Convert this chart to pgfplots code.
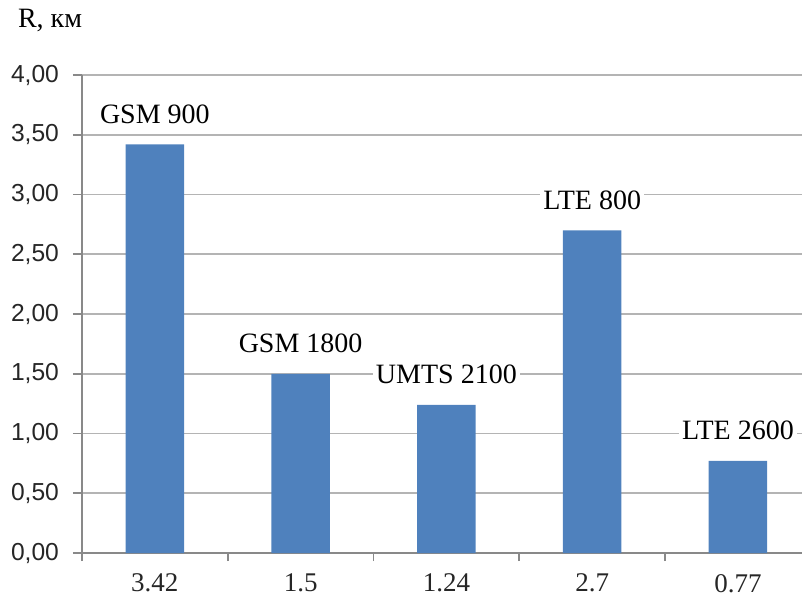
\documentclass[border=0pt]{standalone}
\usepackage{pgfplots}
\pgfplotsset{compat=1.18}
\usepackage{pgfplotstable}
\usepackage{fontspec}
\setmainfont{Liberation Serif}
\setsansfont{Liberation Sans}
\definecolor{barblue}{HTML}{4F81BD}
\definecolor{axisgray}{HTML}{898989}
\definecolor{gridgray}{HTML}{B4B4B4}
\pgfplotstableread{
x y label
0 3.42 {GSM 900}
1 1.5 {GSM 1800}
2 1.24 {UMTS 2100}
3 2.7 {LTE 800}
4 0.77 {LTE 2600}
}\datatable
\begin{document}
\begin{tikzpicture}
\begin{axis}[
  scale only axis, width=360pt, height=239pt,
  xmin=-0.5, xmax=4.44, ymin=0, ymax=4,
  axis x line=bottom, axis y line=left,
  axis line style={-, axisgray, line width=0.9pt},
  ytick={0,0.5,...,4},
  ymajorgrids, grid style={gridgray, line width=0.9pt},
  yticklabel style={font=\sffamily\fontsize{12.3}{13}\selectfont, text=black!85, xshift=-3.5pt,
    /pgf/number format/fixed, /pgf/number format/fixed zerofill,
    /pgf/number format/precision=2, /pgf/number format/use comma,
    /pgf/number format/assume math mode=true},
  xtick={0,1,2,3,4}, xticklabels={3.42,1.5,1.24,2.7,0.77},
  xticklabel style={font=\fontsize{13.5}{14}\selectfont, text=black!85, yshift=-2.5pt},
  minor xtick={-0.5,0.5,1.5,2.5,3.5},
  major x tick style={draw=none},
  tick align=outside, major tick length=4.5pt, minor tick length=4pt,
  tick style={axisgray, line width=0.9pt},
  ybar, bar width=0.4,
  nodes near coords, point meta=explicit symbolic,
  nodes near coords style={font=\fontsize{14}{14}\selectfont, fill=white, inner sep=1.5pt, anchor=base, yshift=10.5pt},
  clip=false,
]
\addplot[fill=barblue, draw=none] table[x=x, y=y, meta=label]{\datatable};
\end{axis}
\node[font=\fontsize{14}{14}\selectfont, anchor=center] at ([xshift=-16pt, yshift=27.5pt]current axis.north west) {R, км};
\pgfresetboundingbox
\useasboundingbox ([xshift=-41pt, yshift=-28.5pt]current axis.south west) rectangle ([yshift=37.5pt]current axis.north east);
\end{tikzpicture}
\end{document}
